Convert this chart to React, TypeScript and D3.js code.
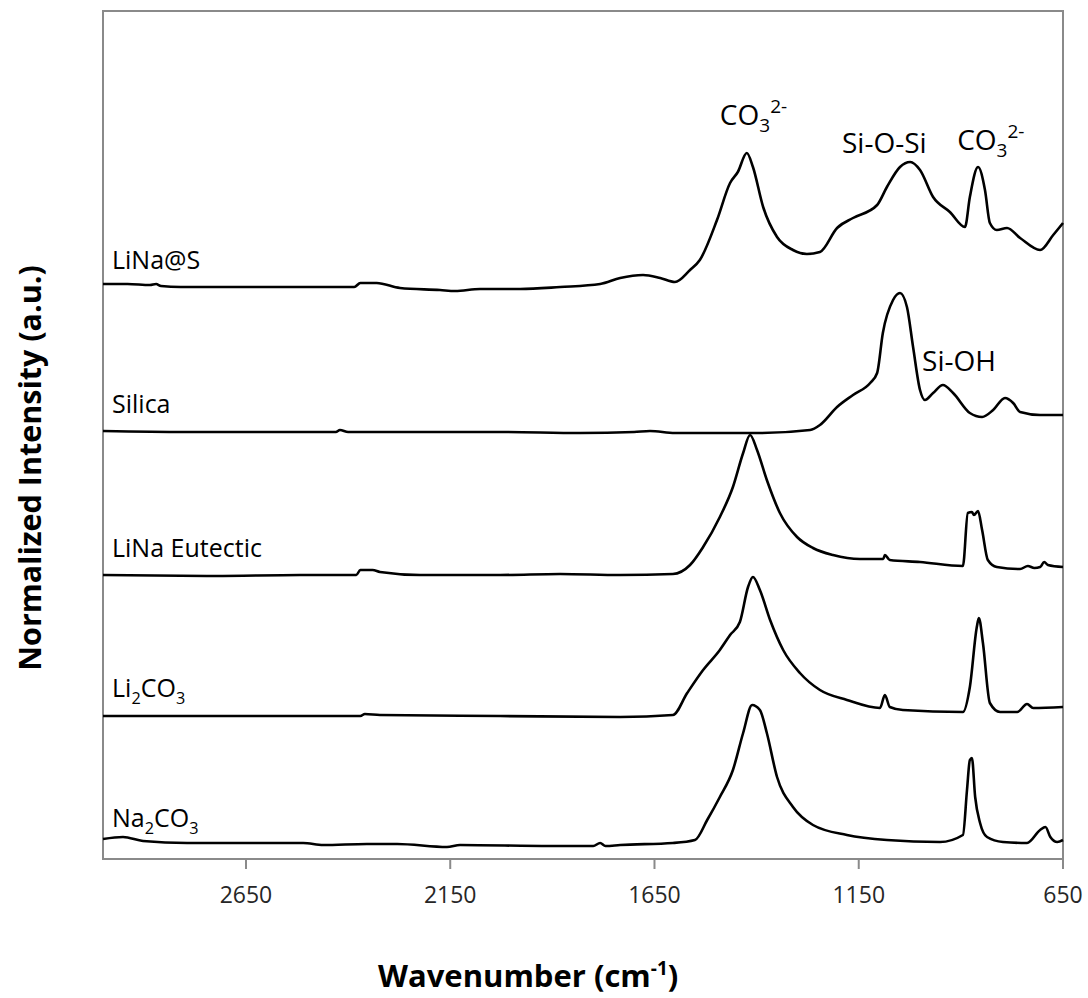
import React from "react";
import * as d3 from "d3";

const W = 1088;
const H = 998;
const plotLeft = 103;
const plotRight = 1063;
const plotTop = 11;
const plotBottom = 859;

const xDomain: [number, number] = [3000, 650];
const yDomain: [number, number] = [0, 8.48];
const xTicks = [2650, 2150, 1650, 1150, 650];

const seriesNames = ["LiNa@S", "Silica", "LiNa Eutectic", "Li2CO3", "Na2CO3"];
const seriesOffsets = [5.71, 4.27, 2.83, 1.43, 0.13];

// [wavenumber (cm-1), normalized intensity above the trace baseline]
const linaS: [number, number][] = [
  [3000, 0.04], [2940, 0.04], [2885, 0.03], [2870, 0.04], [2858, 0.02], [2810, 0.01], [2740, 0.01],
  [2520, 0.01], [2480, 0.01], [2385, 0.01], [2370, 0.05], [2330, 0.05], [2273, 0.0], [2175, -0.02],
  [2138, -0.03], [2077, -0.01], [1979, -0.01], [1881, 0.01], [1783, 0.04], [1734, 0.1], [1678, 0.13],
  [1636, 0.1], [1600, 0.06], [1563, 0.18], [1539, 0.28], [1497, 0.68], [1465, 1.05], [1446, 1.16],
  [1424, 1.35], [1409, 1.21], [1384, 0.81], [1350, 0.51], [1311, 0.38], [1277, 0.34], [1245, 0.36],
  [1203, 0.6], [1164, 0.7], [1105, 0.83], [1081, 1.01], [1049, 1.21], [1024, 1.26], [1000, 1.18],
  [968, 0.91], [927, 0.76], [890, 0.61], [878, 0.91], [858, 1.21], [841, 0.98], [829, 0.65],
  [812, 0.58], [787, 0.6], [755, 0.5], [706, 0.38], [674, 0.53], [650, 0.65],
];

const silica: [number, number][] = [
  [3000, 0.01], [2800, 0.0], [2518, 0.0], [2430, 0.0], [2420, 0.02], [2400, 0.0], [2273, 0.0],
  [2028, 0.0], [1832, -0.01], [1700, 0.0], [1661, 0.01], [1600, -0.01], [1539, -0.01], [1392, -0.01],
  [1269, 0.02], [1245, 0.07], [1203, 0.25], [1164, 0.37], [1122, 0.49], [1105, 0.59], [1091, 0.99],
  [1066, 1.32], [1049, 1.39], [1032, 1.25], [1017, 0.85], [1000, 0.42], [988, 0.32], [968, 0.39],
  [944, 0.47], [919, 0.39], [878, 0.19], [848, 0.15], [821, 0.22], [792, 0.34], [772, 0.29],
  [755, 0.2], [706, 0.17], [650, 0.17],
];

const eutectic: [number, number][] = [
  [3000, 0.01], [2726, 0.0], [2518, 0.01], [2380, 0.01], [2370, 0.06], [2340, 0.06], [2322, 0.04],
  [2224, 0.01], [2028, 0.01], [1881, 0.02], [1734, 0.01], [1605, 0.02], [1563, 0.11], [1531, 0.29],
  [1490, 0.59], [1458, 0.89], [1433, 1.23], [1416, 1.41], [1399, 1.26], [1375, 0.96], [1343, 0.63],
  [1301, 0.39], [1262, 0.28], [1213, 0.21], [1147, 0.17], [1090, 0.17], [1086, 0.21], [1074, 0.16],
  [1000, 0.14], [895, 0.1], [883, 0.63], [873, 0.64], [868, 0.61], [858, 0.65], [848, 0.46],
  [834, 0.16], [812, 0.09], [755, 0.07], [736, 0.1], [720, 0.08], [706, 0.09], [696, 0.14],
  [687, 0.11], [650, 0.09],
];

const li2co3: [number, number][] = [
  [3000, 0.0], [2934, 0.0], [2518, 0.0], [2370, 0.0], [2359, 0.02], [2322, 0.01], [2028, 0.0],
  [1734, -0.01], [1605, 0.01], [1570, 0.23], [1531, 0.46], [1490, 0.66], [1465, 0.81], [1441, 0.94],
  [1421, 1.29], [1409, 1.39], [1392, 1.26], [1367, 0.96], [1335, 0.66], [1294, 0.43], [1245, 0.26],
  [1179, 0.16], [1098, 0.08], [1086, 0.21], [1074, 0.09], [1042, 0.06], [895, 0.04], [878, 0.29],
  [861, 0.89], [856, 0.98], [846, 0.73], [829, 0.13], [804, 0.04], [762, 0.04], [738, 0.12],
  [723, 0.08], [650, 0.09],
];

const na2co3: [number, number][] = [
  [3000, 0.07], [2951, 0.09], [2902, 0.05], [2794, 0.03], [2510, 0.03], [2461, 0.01], [2354, 0.02],
  [2280, 0.02], [2158, -0.01], [2126, 0.01], [1906, 0.0], [1800, 0.0], [1783, 0.03], [1770, 0.0],
  [1734, 0.01], [1605, 0.03], [1551, 0.06], [1521, 0.26], [1490, 0.49], [1458, 0.76], [1433, 1.13],
  [1411, 1.41], [1392, 1.36], [1375, 1.13], [1350, 0.69], [1311, 0.39], [1262, 0.21], [1179, 0.11],
  [1081, 0.06], [951, 0.04], [895, 0.11], [885, 0.56], [878, 0.86], [873, 0.88], [865, 0.49],
  [853, 0.23], [836, 0.09], [797, 0.04], [738, 0.03], [706, 0.16], [693, 0.19], [681, 0.09],
  [664, 0.04], [650, 0.06],
];

const seriesData = [linaS, silica, eutectic, li2co3, na2co3];

// peak annotations: [main, subscript, superscript], anchored at (wavenumber, intensity)
const annoText = [["CO", "3", "2-"], ["Si-O-Si", "", ""], ["CO", "3", "2-"], ["Si-OH", "", ""]];
const annoWave = [1490, 1191, 909, 995];
const annoLevel = [7.34, 7.06, 7.09, 4.88];

const FONT = "'Open Sans', 'Noto Sans', sans-serif";

function Formula({ text, size }: { text: string; size: number }) {
  const parts = text.split(/(\d+)/).filter((p) => p.length > 0);
  const shift = size * 0.28;
  const out: React.ReactNode[] = [];
  let down = false;
  parts.forEach((p, i) => {
    if (/^\d+$/.test(p)) {
      out.push(
        <tspan key={i} dy={down ? 0 : shift} fontSize={size * 0.65}>
          {p}
        </tspan>
      );
      down = true;
    } else {
      out.push(
        <tspan key={i} dy={down ? -shift : 0}>
          {p}
        </tspan>
      );
      down = false;
    }
  });
  return <>{out}</>;
}

export default function App() {
  const x = d3.scaleLinear().domain(xDomain).range([plotLeft, plotRight]);
  const y = d3.scaleLinear().domain(yDomain).range([plotBottom, plotTop]);

  const paths = seriesData.map((s, i) =>
    d3
      .line<[number, number]>()
      .x((d) => x(d[0]))
      .y((d) => y(d[1] + seriesOffsets[i]))
      .curve(d3.curveMonotoneX)(s)
  );

  const frame = "#8a8a8a";

  return (
    <svg
      width={W}
      height={H}
      style={{ position: "absolute", left: 0, top: 0, background: "#fff" }}
      fontFamily={FONT}
    >
      <rect x={0} y={0} width={W} height={H} fill="#fff" />
      {/* plot frame */}
      <rect
        x={plotLeft}
        y={plotTop}
        width={plotRight - plotLeft}
        height={plotBottom - plotTop}
        fill="none"
        stroke={frame}
        strokeWidth={2}
      />
      {/* x ticks */}
      {xTicks.map((t) => (
        <g key={t}>
          <line x1={x(t)} x2={x(t)} y1={plotBottom} y2={plotBottom + 10} stroke={frame} strokeWidth={2} />
          <text x={x(t)} y={903} textAnchor="middle" fontSize={23} fill="#262626">
            {t}
          </text>
        </g>
      ))}
      {/* spectra */}
      {paths.map((p, i) => (
        <path key={i} d={p || ""} fill="none" stroke="#000" strokeWidth={2.6} strokeLinejoin="round" />
      ))}
      {/* series labels */}
      {seriesNames.map((n, i) => (
        <text key={n} x={112} y={y(seriesOffsets[i]) - 19} fontSize={25} fill="#000">
          <Formula text={n} size={25} />
        </text>
      ))}
      {/* peak annotations */}
      {annoText.map((a, i) => (
        <text key={i} x={x(annoWave[i])} y={y(annoLevel[i])} fontSize={28} fill="#000">
          <tspan>{a[0]}</tspan>
          {a[1] && (
            <tspan dy={7} fontSize={19}>
              {a[1]}
            </tspan>
          )}
          {a[2] && (
            <tspan dy={-19} fontSize={19}>
              {a[2]}
            </tspan>
          )}
        </text>
      ))}
      {/* axis titles */}
      <text x={378} y={987} fontSize={31} fontWeight="bold" fill="#000">
        <tspan>Wavenumber (cm</tspan>
        <tspan dy={-12} fontSize={19}>
          -1
        </tspan>
        <tspan dy={12}>)</tspan>
      </text>
      <text
        transform="translate(41,468) rotate(-90)"
        textAnchor="middle"
        fontSize={30.5}
        fontWeight="bold"
        fill="#000"
      >
        Normalized Intensity (a.u.)
      </text>
    </svg>
  );
}
